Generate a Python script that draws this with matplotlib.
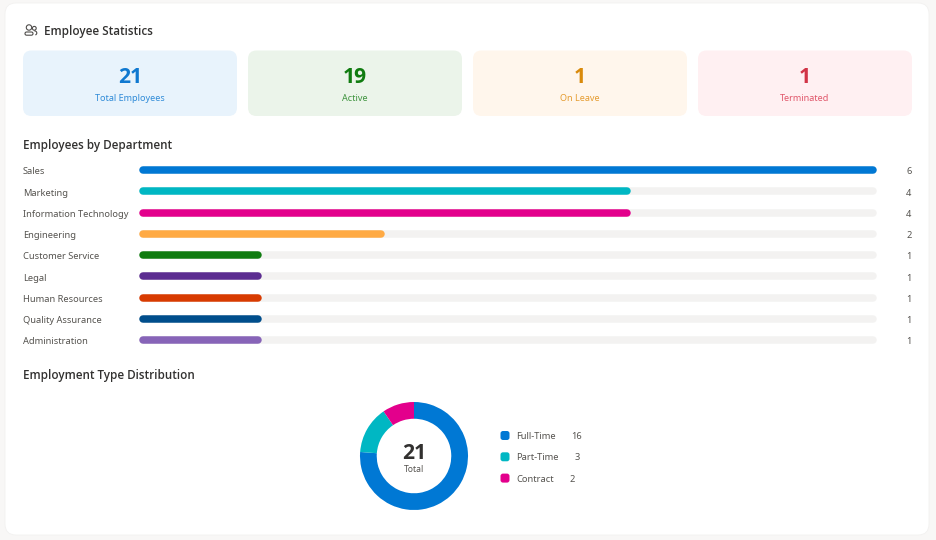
import matplotlib
matplotlib.use("Agg")
import matplotlib.pyplot as plt
from matplotlib.patches import FancyBboxPatch, Circle, Arc

plt.rcParams['font.family'] = ['Noto Sans', 'Open Sans', 'DejaVu Sans']
STRONG_FONT = ['Open Sans', 'Noto Sans', 'DejaVu Sans']

# Summary cards
card_values = [21, 19, 1, 1]
card_labels = ["Total Employees", "Active", "On Leave", "Terminated"]
card_fills = ["#e8f3fc", "#ebf4ea", "#fff6ec", "#fff0f2"]
card_value_colors = ["#0f78d0", "#107c10", "#d98a0b", "#d13447"]
card_label_colors = ["#2f8bd8", "#3f943f", "#e59c30", "#e0566a"]

# Department bars
departments = ["Sales", "Marketing", "Information Technology", "Engineering",
               "Customer Service", "Legal", "Human Resources",
               "Quality Assurance", "Administration"]
dept_counts = [6, 4, 4, 2, 1, 1, 1, 1, 1]
dept_colors = ["#0078d4", "#00b7c3", "#e3008c", "#ffaa44", "#107c10",
               "#5c2d91", "#d83b01", "#004e8c", "#8764b8"]
dept_max = 6

# Employment type split
type_labels = ["Full-Time", "Part-Time", "Contract"]
type_counts = [16, 3, 2]
type_colors = ["#0078d4", "#00b7c3", "#e3008c"]
type_total = 21

W, H = 936, 540
fig = plt.figure(figsize=(W / 100, H / 100), dpi=100, facecolor="#f8f7f6")


def axes_px(left, top, width, height, **kw):
    """Axes placed by pixel box, measured from the top-left of the figure."""
    return fig.add_axes([left / W, 1 - (top + height) / H, width / W, height / H], **kw)


# Page layer in pixel units for the card, headings and tiles
page = axes_px(0, 0, W, H)
page.set_xlim(0, W)
page.set_ylim(H, 0)
page.axis("off")
page.patch.set_alpha(0)

page.add_patch(FancyBboxPatch((5, 3), 924, 532, boxstyle="round,pad=0,rounding_size=11",
                              fc="white", ec="#f2f1f0", lw=0.6))

TEXT = "#323130"
MUTED = "#55534f"


def heading(x, y, s):
    page.text(x, y, s, fontsize=8.35, fontweight=600, family=STRONG_FONT,
              color=TEXT, va="center", ha="left")


heading(44.5, 31, "Employee Statistics")
heading(23, 145, "Employees by Department")
heading(23, 375.5, "Employment Type Distribution")

# People glyph beside the first heading
glyph = dict(fc="none", ec="#4f4d4b", lw=0.8)
page.add_patch(Circle((29, 27.5), 2.7, **glyph))
page.add_patch(FancyBboxPatch((25, 32), 8, 3.2, boxstyle="round,pad=0,rounding_size=1.6", **glyph))
page.add_patch(Circle((34.3, 28.3), 1.9, **glyph))
page.add_patch(Arc((34.2, 33), 5.2, 4.4, theta1=-90, theta2=60, **glyph))

# Summary tiles
tile_lefts = [23, 248, 473, 698]
for left, val, lab, fill, vc, lc in zip(tile_lefts, card_values, card_labels,
                                        card_fills, card_value_colors, card_label_colors):
    page.add_patch(FancyBboxPatch((left, 50.5), 214, 65.5,
                                  boxstyle="round,pad=0,rounding_size=8.5", fc=fill, ec="none"))
    cx = left + 107
    page.text(cx, 77.8, str(val), fontsize=15.2, fontweight=700, family=STRONG_FONT,
              color=vc, ha="center", va="center")
    page.text(cx, 98.8, lab, fontsize=6.5, color=lc, ha="center", va="center")

# Department bars: the stroke's round caps stay inside each bar's extent
BAR_LW = 5.4
bars = axes_px(139, 159.4, 738, 191.25)
bars.set_xlim(0, dept_max)
bars.set_ylim(len(departments) - 0.5, -0.5)
bars.axis("off")
bars.patch.set_alpha(0)
cap = (BAR_LW * 100 / 72 / 2) * dept_max / 738
for row, (name, count, color) in enumerate(zip(departments, dept_counts, dept_colors)):
    bars.plot([cap, dept_max - cap], [row, row], color="#f3f2f1", lw=BAR_LW,
              solid_capstyle="round", zorder=1, clip_on=False)
    bars.plot([cap, count - cap], [row, row], color=color, lw=BAR_LW,
              solid_capstyle="round", zorder=2, clip_on=False)
    y_px = 170 + row * 21.25
    page.text(23, y_px + 1.8, name, fontsize=6.7, color=MUTED, ha="left", va="center")
    page.text(909, y_px + 1.8, str(count), fontsize=6.7, color=MUTED, ha="center", va="center")

# Donut, running clockwise from twelve o'clock
donut = axes_px(358, 400, 112, 112)
donut.pie(type_counts, colors=type_colors, startangle=90, counterclock=False,
          radius=1.0, wedgeprops=dict(width=0.31, edgecolor="none"))
donut.set_xlim(-112 / 108, 112 / 108)
donut.set_ylim(-112 / 108, 112 / 108)
donut.set_aspect("equal")
donut.patch.set_alpha(0)
page.set_zorder(0)
donut.set_zorder(1)
bars.set_zorder(1)

page.text(414, 453.2, str(type_total), fontsize=15.2, fontweight=700, family=STRONG_FONT,
          color=TEXT, ha="center", va="center")
page.text(414.5, 469, "Total", fontsize=6.2, color=MUTED, ha="center", va="center")

# Legend rows
for i, (lab, cnt, col) in enumerate(zip(type_labels, type_counts, type_colors)):
    y_px = 435.5 + i * 21.3
    page.add_patch(FancyBboxPatch((500.5, y_px - 4.5), 9, 9,
                                  boxstyle="round,pad=0,rounding_size=2.5", fc=col, ec="none"))
    page.text(516, y_px + 1, lab, fontsize=6.7, color=MUTED, ha="left", va="center")
    page.text(577 if i < 2 else 572, y_px + 1, str(cnt), fontsize=6.7, color=MUTED, ha="center", va="center")

fig.savefig("out.png", dpi=100, facecolor=fig.get_facecolor())
